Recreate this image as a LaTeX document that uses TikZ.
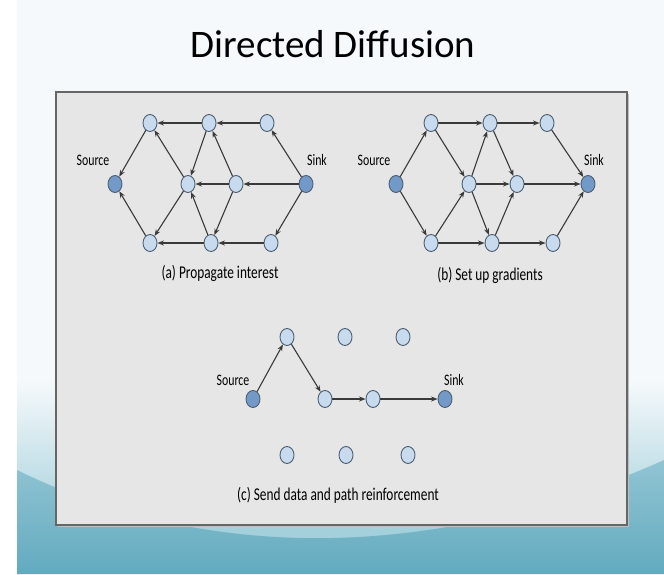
\documentclass[tikz,border=0pt]{standalone}
\usepackage{fontspec}
\setmainfont{Carlito}
\newfontfamily\condfont[FakeStretch=0.74]{Carlito}
\usetikzlibrary{arrows.meta,shapes.geometric}
\definecolor{nodelight}{HTML}{C8DBEE}
\definecolor{nodedark}{HTML}{7399C8}
\definecolor{nodeedge}{HTML}{4E5F72}
\definecolor{edgegray}{HTML}{3A3A3A}
\definecolor{boxgray}{HTML}{E6E6E6}
\definecolor{slidewhite}{HTML}{F6F9FB}
\definecolor{tealtop}{HTML}{A4D0DC}
\definecolor{tealbot}{HTML}{63AABF}
\tikzset{
  sensor/.style={ellipse,draw=nodeedge,line width=0.9pt,fill=nodelight,inner sep=0pt,minimum width=14pt,minimum height=17pt},
  endpt/.style={sensor,fill=nodedark},
  lbl/.style={font=\condfont\fontsize{16}{18}\selectfont,inner sep=0pt},
  caption/.style={font=\condfont\fontsize{18}{20}\selectfont,inner sep=0pt},
  link/.style={draw=edgegray,line width=1.1pt,-{Stealth[length=6.5pt,width=5pt]}}
}
\begin{document}
\begin{tikzpicture}[x=1pt,y=-1pt]
\useasboundingbox (0,0) rectangle (664,574);
% slide background
\fill[white] (0,0) rectangle (664,574);
\fill[slidewhite] (17,0) rectangle (664,574);
\shade[top color=slidewhite,bottom color=tealtop] (17,380) rectangle (664,530);
\fill[tealtop] (17,529) rectangle (664,574);
\shade[top color=tealtop!70!tealbot,bottom color=tealbot] (17,470) .. controls (200,560) and (430,565) .. (664,460) -- (664,574) -- (17,574) -- cycle;
\node[font=\fontsize{39}{44}\selectfont,inner sep=0pt] (title) at (333,44) {Directed Diffusion};
% figure panel
\fill[black!25] (58,94) rectangle (629,527);
\draw[fill=boxgray,draw=black!60,line width=1.6pt] (56,92) rectangle (627,525);

% (a) propagate interest
\node[endpt](aSrc) at (115,184){};
\node[sensor](aTL) at (150,123){};
\node[sensor](aTM) at (209,123){};
\node[sensor](aTR) at (267,123){};
\node[sensor](aMC) at (188,184){};
\node[sensor](aMR) at (236,184){};
\node[endpt](aSnk) at (306,184){};
\node[sensor](aBL) at (150,243){};
\node[sensor](aBM) at (211,243){};
\node[sensor](aBR) at (271,243){};
\node[lbl](aSrcL) at (93,160){Source};
\node[lbl](aSnkL) at (317,160){Sink};
\node[caption](aCap) at (220,273){(a) Propagate interest};
\draw[link](aSnk)--(aTR);
\draw[link](aSnk)--(aMR);
\draw[link](aSnk)--(aBR);
\draw[link](aTR)--(aTM);
\draw[link](aBR)--(aBM);
\draw[link](aMR)--(aMC);
\draw[link](aMR)--(aTM);
\draw[link](aMR)--(aBM);
\draw[link](aTM)--(aTL);
\draw[link](aTM)--(aMC);
\draw[link](aBM)--(aBL);
\draw[link](aBM)--(aMC);
\draw[link](aMC)--(aTL);
\draw[link](aMC)--(aBL);
\draw[link](aTL)--(aSrc);
\draw[link](aBL)--(aSrc);

% (b) set up gradients
\node[endpt](bSrc) at (396,184){};
\node[sensor](bTL) at (431,123){};
\node[sensor](bTM) at (490,123){};
\node[sensor](bTR) at (547,123){};
\node[sensor](bMC) at (469,184){};
\node[sensor](bMR) at (517,184){};
\node[endpt](bSnk) at (588,184){};
\node[sensor](bBL) at (431,243){};
\node[sensor](bBM) at (492,243){};
\node[sensor](bBR) at (553,243){};
\node[lbl](bSrcL) at (374,160){Source};
\node[lbl](bSnkL) at (594,160){Sink};
\node[caption](bCap) at (490,275){(b) Set up gradients};
\draw[link](bSrc)--(bTL);
\draw[link](bSrc)--(bBL);
\draw[link](bTL)--(bTM);
\draw[link](bTL)--(bMC);
\draw[link](bBL)--(bBM);
\draw[link](bBL)--(bMC);
\draw[link](bMC)--(bTM);
\draw[link](bMC)--(bMR);
\draw[link](bMC)--(bBM);
\draw[link](bTM)--(bTR);
\draw[link](bTM)--(bMR);
\draw[link](bBM)--(bBR);
\draw[link](bBM)--(bMR);
\draw[link](bTR)--(bSnk);
\draw[link](bMR)--(bSnk);
\draw[link](bBR)--(bSnk);

% (c) send data and path reinforcement
\node[endpt](cSrc) at (253,399){};
\node[sensor](cT1) at (287,337){};
\node[sensor](cT2) at (345,337){};
\node[sensor](cT3) at (403,337){};
\node[sensor](cM1) at (325,399){};
\node[sensor](cM2) at (373,399){};
\node[endpt](cSnk) at (445,399){};
\node[sensor](cB1) at (287,455){};
\node[sensor](cB2) at (346,455){};
\node[sensor](cB3) at (408,455){};
\node[lbl](cSrcL) at (233,380){Source};
\node[lbl](cSnkL) at (454,380){Sink};
\node[caption](cCap) at (338,495){(c) Send data and path reinforcement};
\draw[link](cSrc)--(cT1);
\draw[link](cT1)--(cM1);
\draw[link](cM1)--(cM2);
\draw[link](cM2)--(cSnk);
\end{tikzpicture}
\end{document}
